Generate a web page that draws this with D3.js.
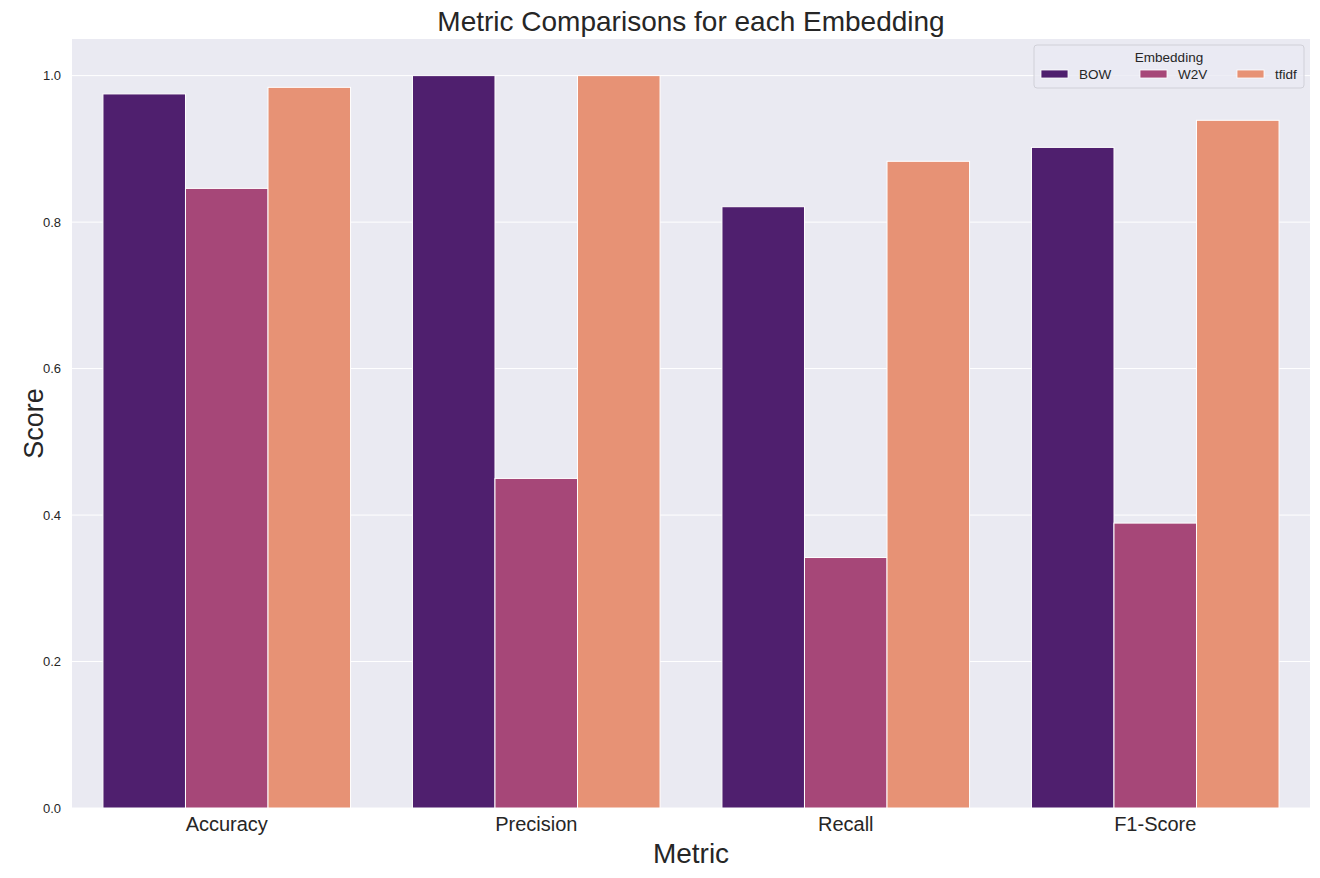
<!DOCTYPE html>
<html>
<head>
<meta charset="utf-8">
<script src="https://cdn.jsdelivr.net/npm/d3@7"></script>
<style>
  body { margin: 0; background: #fff; }
  text { font-family: "Liberation Sans", Arial, sans-serif; fill: #262626; }
</style>
</head>
<body>
<script>
// metrics on the x axis, one bar per embedding
var metrics = ["Accuracy", "Precision", "Recall", "F1-Score"];
var embeddings = ["BOW", "W2V", "tfidf"];
var bow   = [0.975, 1.0, 0.821, 0.902];
var w2v   = [0.846, 0.450, 0.342, 0.389];
var tfidf = [0.984, 1.0, 0.883, 0.939];
var yTicks = [0.0, 0.2, 0.4, 0.6, 0.8, 1.0];

var chart = {
  width: 1320,
  height: 878,
  left: 72,
  right: 1310,
  top: 39,
  bottom: 808
};
var colors = {"BOW": "#4f1f6e", "W2V": "#a64778", "tfidf": "#e79275"};

var rows = [];
metrics.forEach(function(m, i){
  rows.push({metric: m, emb: "BOW", value: bow[i]});
  rows.push({metric: m, emb: "W2V", value: w2v[i]});
  rows.push({metric: m, emb: "tfidf", value: tfidf[i]});
});

var svg = d3.select("body").append("svg")
  .attr("width", chart.width)
  .attr("height", chart.height);

var x = d3.scaleBand().domain(metrics).range([chart.left, chart.right]).paddingInner(0.2).paddingOuter(0.1);
var xIn = d3.scaleBand().domain(embeddings).range([0, x.bandwidth()]);
var y = d3.scaleLinear().domain([0, 1.05]).range([chart.bottom, chart.top]);

// background + grid
svg.append("rect")
  .attr("x", chart.left).attr("y", chart.top)
  .attr("width", chart.right - chart.left)
  .attr("height", chart.bottom - chart.top)
  .attr("fill", "#eaeaf2");

svg.append("g")
  .selectAll("line")
  .data(yTicks)
  .enter().append("line")
  .attr("x1", chart.left).attr("x2", chart.right)
  .attr("y1", function(d){ return y(d); })
  .attr("y2", function(d){ return y(d); })
  .attr("stroke", "#fff").attr("stroke-width", 1);

// bars
svg.append("g")
  .selectAll("rect")
  .data(rows)
  .enter().append("rect")
  .attr("x", function(d){ return x(d.metric) + xIn(d.emb); })
  .attr("y", function(d){ return y(d.value); })
  .attr("width", xIn.bandwidth())
  .attr("height", function(d){ return y(0) - y(d.value); })
  .attr("fill", function(d){ return colors[d.emb]; })
  .attr("stroke", "#fff").attr("stroke-width", 1);

// y axis
var yAxis = svg.append("g")
  .attr("transform", "translate(" + chart.left + ",0)")
  .call(d3.axisLeft(y).tickValues(yTicks).tickFormat(d3.format(".1f")).tickSize(0).tickPadding(11));
yAxis.select(".domain").remove();
yAxis.selectAll("text").style("font-size", "13px").attr("fill", "#262626");

// x axis
var xAxis = svg.append("g")
  .attr("transform", "translate(0," + chart.bottom + ")")
  .call(d3.axisBottom(x).tickSize(0).tickPadding(9));
xAxis.select(".domain").remove();
xAxis.selectAll("text").style("font-size", "20px").attr("fill", "#262626");

// title and axis labels
svg.append("text")
  .attr("x", (chart.left + chart.right) / 2).attr("y", 31)
  .attr("text-anchor", "middle")
  .style("font-size", "28px")
  .text("Metric Comparisons for each Embedding");

svg.append("text")
  .attr("x", (chart.left + chart.right) / 2).attr("y", 863)
  .attr("text-anchor", "middle")
  .style("font-size", "28px")
  .text("Metric");

svg.append("text")
  .attr("transform", "translate(43," + ((chart.top + chart.bottom) / 2) + ") rotate(-90)")
  .attr("text-anchor", "middle")
  .style("font-size", "27px")
  .text("Score");

// legend
var legend = svg.append("g").attr("transform", "translate(1034,45)");
legend.append("rect")
  .attr("width", 270).attr("height", 43).attr("rx", 3)
  .attr("fill", "#eaeaf2").attr("fill-opacity", 0.8)
  .attr("stroke", "#d0d0d8");
legend.append("text")
  .attr("x", 135).attr("y", 17)
  .attr("text-anchor", "middle")
  .style("font-size", "13.5px")
  .text("Embedding");
var legendX = [7, 106, 203];
var item = legend.selectAll("g.item")
  .data(embeddings)
  .enter().append("g")
  .classed("item", true)
  .attr("transform", function(d, i){ return "translate(" + legendX[i] + ",25)"; });
item.append("rect")
  .attr("width", 27).attr("height", 8)
  .attr("fill", function(d){ return colors[d]; })
  .attr("stroke", "#fff").attr("stroke-width", 0.8);
item.append("text")
  .attr("x", 38).attr("y", 9)
  .style("font-size", "13.5px")
  .text(function(d){ return d; });
</script>
</body>
</html>
